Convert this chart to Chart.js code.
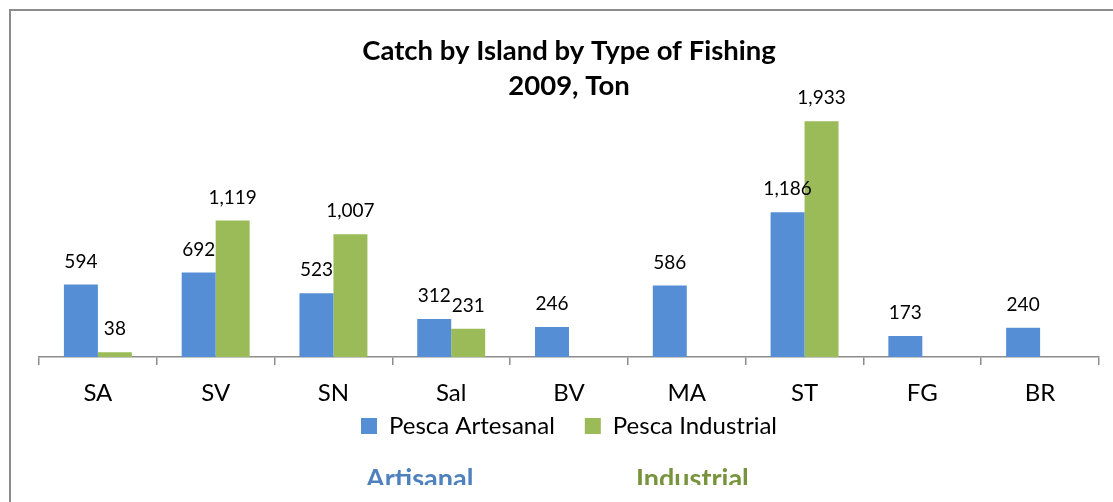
<!DOCTYPE html>
<html>
<head>
<meta charset="utf-8">
<script src="https://cdn.jsdelivr.net/npm/chart.js@4/dist/chart.umd.min.js"></script>
<style>
  body { margin: 0; background: #fff; }
  #wrap { position: relative; width: 1113px; height: 502px; overflow: hidden; }
  #frame { position: absolute; left: 9px; top: 9px; width: 1200px; height: 600px; border: 2px solid #8c8c8c; }
  #chart { position: absolute; left: 0; top: 0; }
  #notes { position: absolute; left: 0; top: 0; width: 1113px; height: 485px; overflow: hidden; }
  .note { position: absolute; top: 464px; font: bold 27px/27px Lato, sans-serif; }
</style>
</head>
<body>
<div id="wrap">
  <div id="frame"></div>
  <canvas id="chart" width="1113" height="502"></canvas>
  <div id="notes">
    <div class="note" style="left:366px;color:#4f81bd">Artisanal</div>
    <div class="note" style="left:636px;color:#77933c">Industrial</div>
  </div>
</div>
<script>
const islands = ['SA', 'SV', 'SN', 'Sal', 'BV', 'MA', 'ST', 'FG', 'BR']
const artesanal = [594, 692, 523, 312, 246, 586, 1186, 173, 240]
const industrial = [38, 1119, 1007, 231, null, null, 1933, null, null]
const titleLines = ['Catch by Island by Type of Fishing', '2009, Ton']

const fontFamily = 'Lato, sans-serif'

// numbers above each bar
const barLabels = {
  id: 'barLabels',
  afterDatasetsDraw (chart) {
    const ctx = chart.ctx
    ctx.save()
    ctx.font = '19px ' + fontFamily
    ctx.fillStyle = '#000'
    ctx.textAlign = 'center'
    ctx.textBaseline = 'middle'
    chart.data.datasets.forEach((ds, i) => {
      chart.getDatasetMeta(i).data.forEach((bar, j) => {
        const v = ds.data[j]
        if (v == null) return
        ctx.fillText(v.toLocaleString('en-US'), bar.x, bar.y - 23)
      })
    })
    ctx.restore()
  }
}

// x axis box is squeezed so the legend sits close, don't clip its labels
const noLabelClip = {
  id: 'noLabelClip',
  beforeDraw (chart) {
    chart.scales.x._computeLabelArea = () => undefined
  }
}

const ctx = document.getElementById('chart').getContext('2d')
const islandChart = new Chart(ctx, {
  type: 'bar',
  data: {
    labels: islands,
    datasets: [
      {
        label: 'Pesca Artesanal',
        data: artesanal,
        backgroundColor: '#558ed5',
        borderWidth: 0,
        categoryPercentage: 0.577,
        barPercentage: 1
      },
      {
        label: 'Pesca Industrial',
        data: industrial,
        backgroundColor: '#9bbb59',
        borderWidth: 0,
        categoryPercentage: 0.577,
        barPercentage: 1
      }
    ]
  },
  options: {
    responsive: false,
    animation: false,
    layout: { padding: { left: 39, right: 14, top: 0, bottom: 54 } },
    plugins: {
      tooltip: { enabled: false },
      title: {
        display: true,
        text: titleLines,
        fullSize: false,
        color: '#000',
        font: { family: fontFamily, size: 27.5, weight: 'bold', lineHeight: 35 / 27.5 },
        padding: { top: 33.5, bottom: 9.5 }
      },
      legend: {
        position: 'bottom',
        fullSize: false,
        labels: {
          boxWidth: 16,
          boxHeight: 16,
          color: '#000',
          padding: 30,
          font: { family: fontFamily, size: 24 }
        }
      }
    },
    scales: {
      x: {
        grid: { display: true, drawOnChartArea: false, tickLength: 8, color: '#8c8c8c', lineWidth: 1.5, offset: true },
        border: { display: true, color: '#8c8c8c', width: 1.5 },
        ticks: { color: '#000', padding: 13.6, font: { family: fontFamily, size: 24 } },
        afterFit: (scale) => { scale.height = 27 }
      },
      y: {
        display: false,
        min: 0,
        max: 2000
      }
    }
  },
  plugins: [barLabels, noLabelClip]
})
</script>
</body>
</html>
